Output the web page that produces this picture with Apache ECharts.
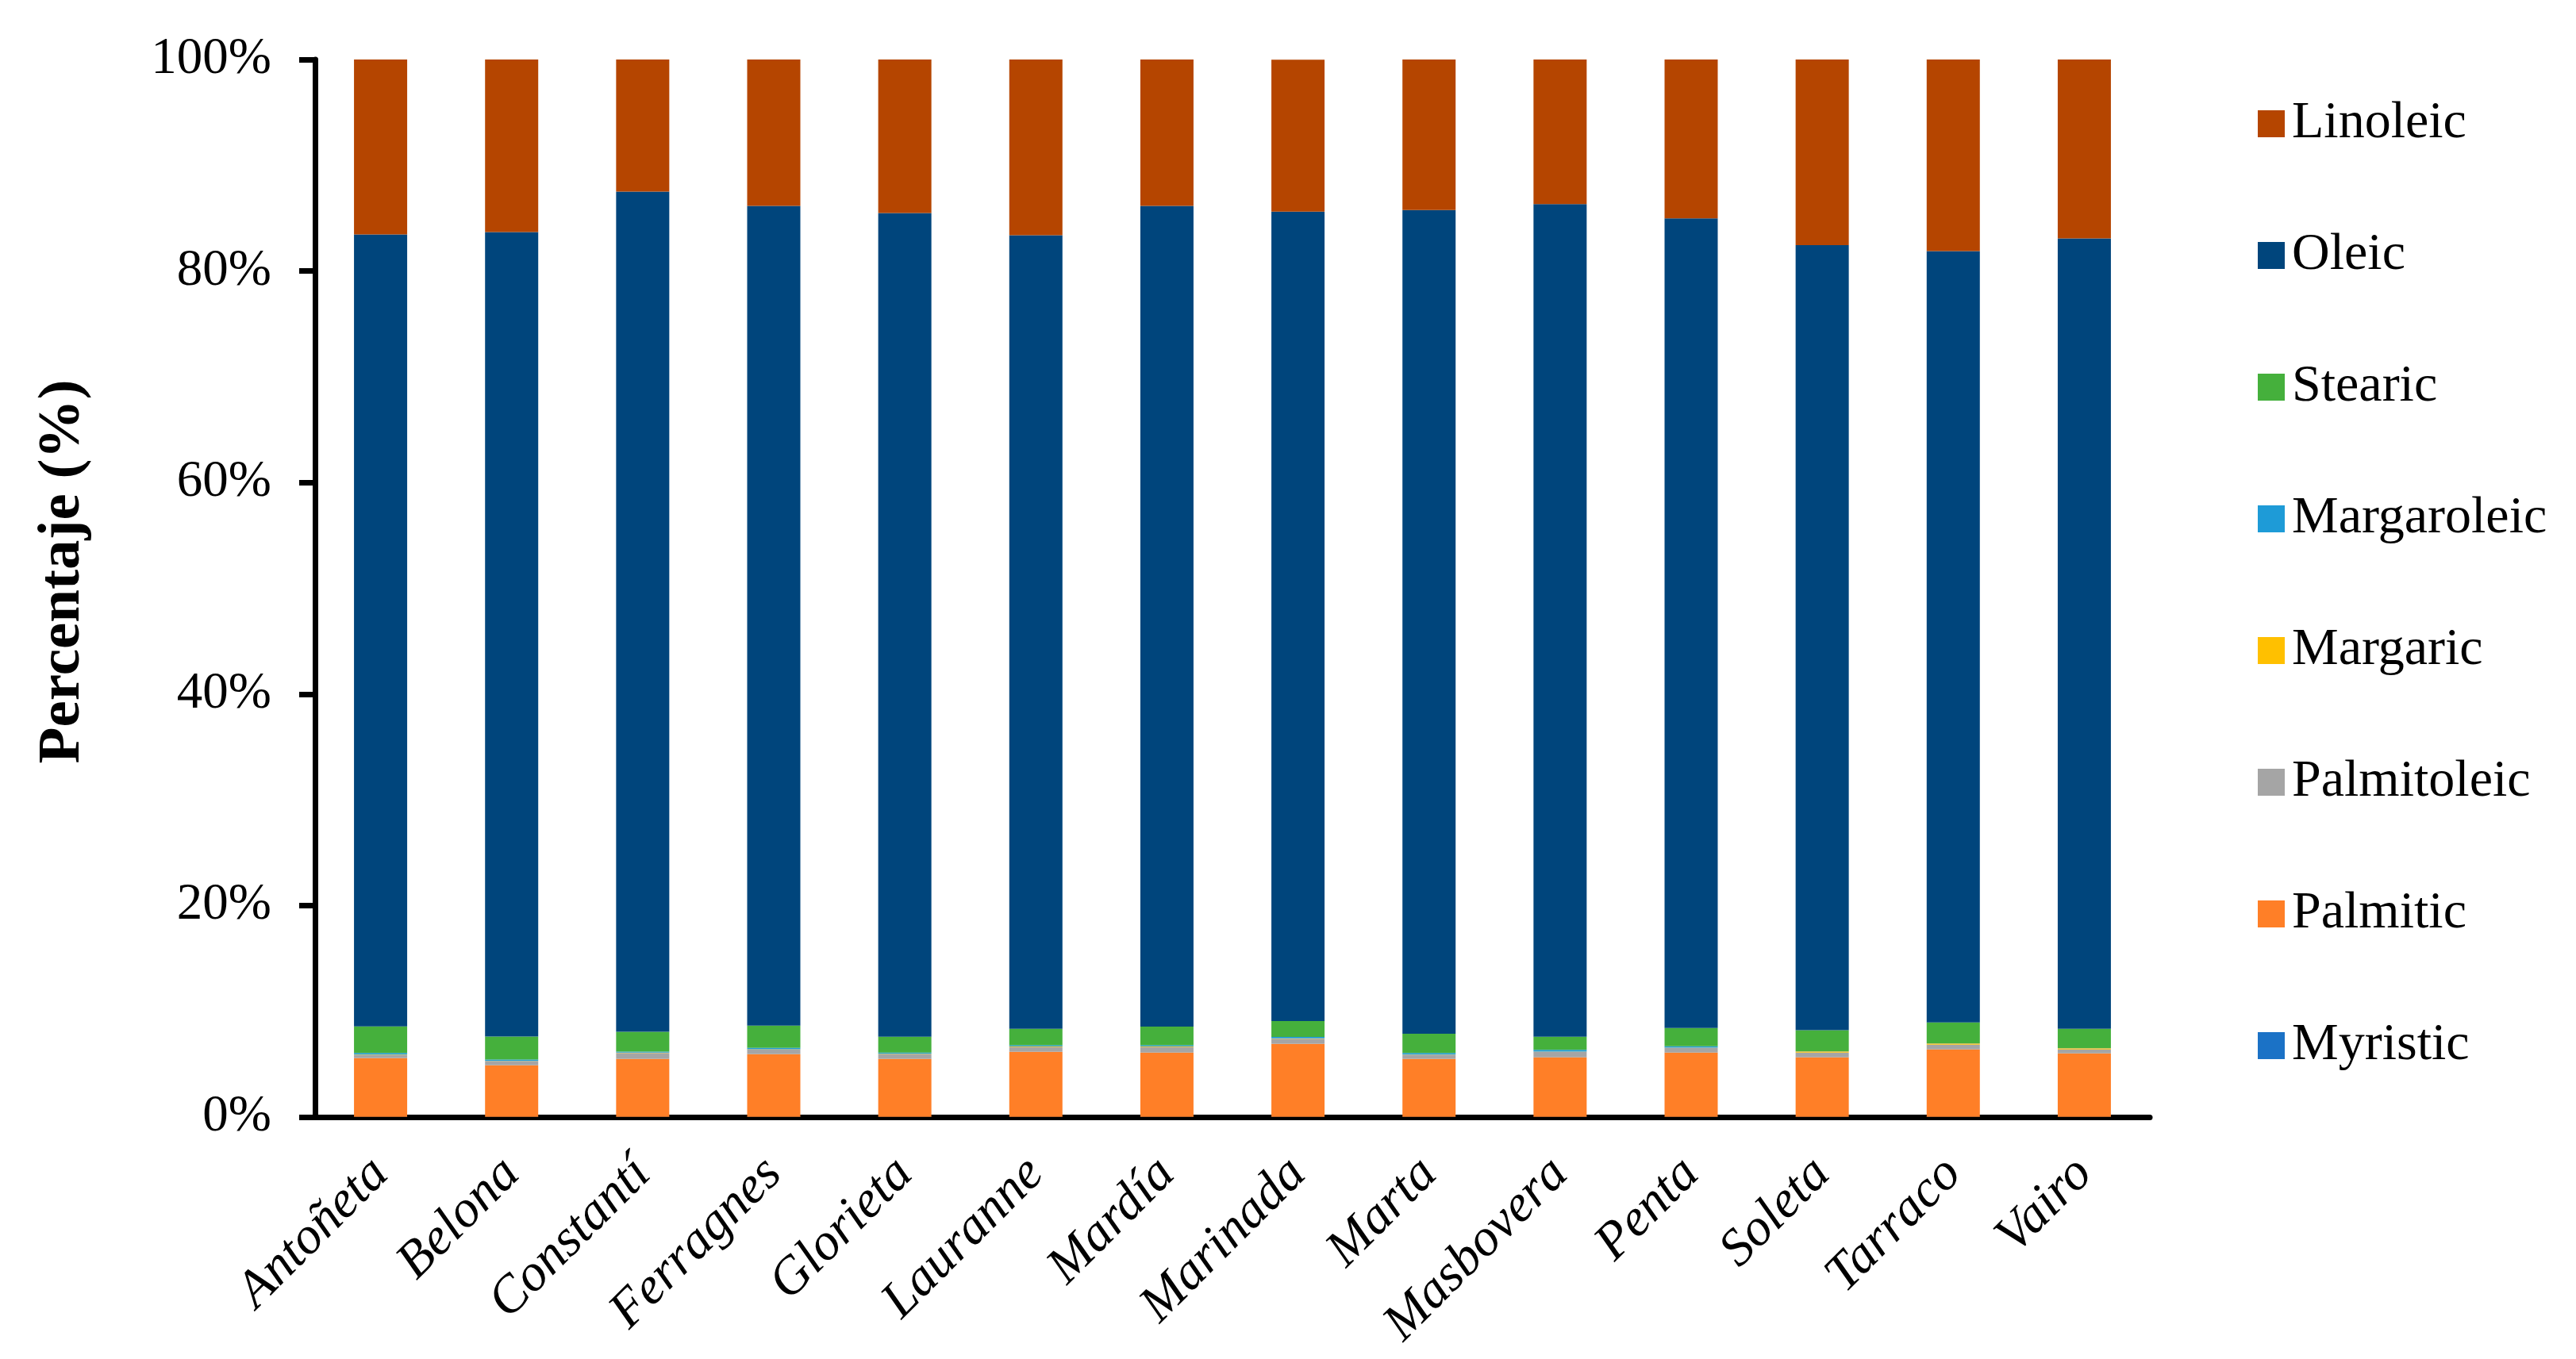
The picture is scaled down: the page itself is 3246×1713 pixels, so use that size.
<!DOCTYPE html>
<html>
<head>
<meta charset="utf-8">
<script src="https://cdn.jsdelivr.net/npm/echarts@6/dist/echarts.min.js"></script>
<style>
html,body{margin:0;padding:0;background:#fff;}
#chart{width:3246px;height:1713px;}
</style>
</head>
<body>
<div id="chart"></div>
<script>
const categories = ['Antoñeta','Belona','Constantí','Ferragnes','Glorieta','Lauranne','Mardía','Marinada','Marta','Masbovera','Penta','Soleta','Tarraco','Vairo'];
const myristic    = [0.02,0.02,0.02,0.02,0.02,0.02,0.02,0.02,0.02,0.02,0.02,0.02,0.02,0.02];
const palmitic    = [5.55,4.88,5.48,5.93,5.48,6.15,6.08,6.90,5.48,5.63,6.08,5.63,6.38,6.00];
const palmitoleic = [0.30,0.38,0.55,0.42,0.45,0.45,0.52,0.48,0.38,0.52,0.45,0.45,0.45,0.38];
const margaric    = [0.03,0.02,0.05,0.05,0.03,0.05,0.05,0.05,0.02,0.02,0.02,0.10,0.10,0.10];
const margaroleic = [0.15,0.13,0.08,0.12,0.12,0.12,0.12,0.12,0.16,0.16,0.13,0.02,0.02,0.02];
const stearic     = [2.53,2.18,1.88,2.10,1.50,1.55,1.76,1.50,1.82,1.25,1.72,2.00,1.98,1.82];
const oleic       = [74.87,76.08,79.45,77.52,77.89,75.04,77.60,76.54,77.89,78.72,76.55,74.22,72.94,74.74];
const linoleic    = [16.55,16.32,12.50,13.85,14.53,16.63,13.85,14.38,14.23,13.70,15.05,17.60,18.13,16.93];
const yTicks = [0,20,40,60,80,100];

const seriesDefs = [
  ['Myristic', myristic, '#1B72C6'],
  ['Palmitic', palmitic, '#FF7F27'],
  ['Palmitoleic', palmitoleic, '#A5A5A5'],
  ['Margaric', margaric, '#FFC000'],
  ['Margaroleic', margaroleic, '#1E9BD7'],
  ['Stearic', stearic, '#45B03C'],
  ['Oleic', oleic, '#00457C'],
  ['Linoleic', linoleic, '#B54500']
];

const font = '"Liberation Serif", "Times New Roman", serif';
const chart = echarts.init(document.getElementById('chart'));
chart.setOption({
  animation: false,
  backgroundColor: '#fff',
  textStyle: {fontFamily: font},
  grid: {left: 397, right: 537, top: 75, bottom: 305, containLabel: false},
  legend: {
    orient: 'vertical',
    left: 2840,
    top: 116,
    itemWidth: 34,
    itemHeight: 34,
    itemGap: 96,
    icon: 'rect',
    data: seriesDefs.map(s => s[0]).reverse(),
    textStyle: {fontFamily: font, fontSize: 66, color: '#000', lineHeight: 70, padding: [0,0,0,4]}
  },
  xAxis: {
    type: 'category',
    data: categories,
    axisLine: {lineStyle: {color: '#000', width: 7}},
    axisTick: {show: false},
    axisLabel: {
      rotate: 45, interval: 0, margin: 62,
      fontFamily: font, fontSize: 66, fontStyle: 'italic', color: '#000'
    }
  },
  yAxis: {
    type: 'value',
    min: yTicks[0], max: yTicks[yTicks.length-1], interval: 20,
    name: 'Percentaje (%)',
    nameLocation: 'middle',
    nameGap: 280,
    nameTextStyle: {fontFamily: font, fontSize: 75, fontWeight: 'bold', color: '#000', padding: [0,0,0,42]},
    axisLine: {show: true, lineStyle: {color: '#000', width: 7}},
    axisTick: {show: true, length: 20, lineStyle: {color: '#000', width: 7}},
    splitLine: {show: false},
    axisLabel: {formatter: '{value}%', margin: 55, fontFamily: font, fontSize: 65, color: '#000'}
  },
  series: seriesDefs.map(s => ({
    name: s[0], type: 'bar', stack: 'total', data: s[1],
    barWidth: 67,
    itemStyle: {color: s[2]},
    z: 1
  }))
});
</script>
</body>
</html>
